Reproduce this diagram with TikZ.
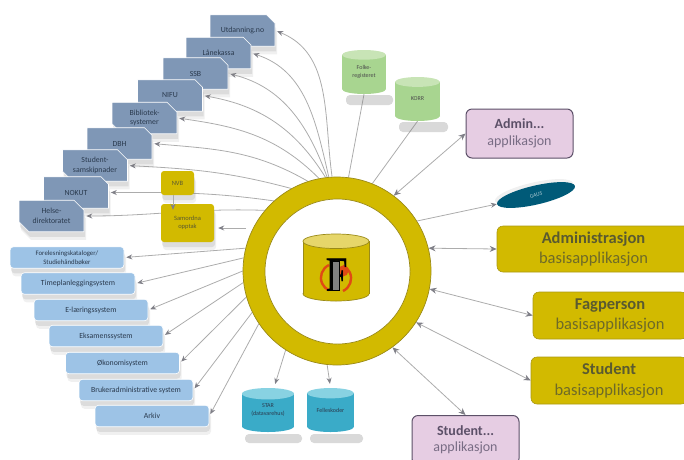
\documentclass[tikz,border=0pt]{standalone}
\usepackage{fontspec}
\setmainfont{Carlito}
\newfontfamily\logofont{Liberation Serif}
\usetikzlibrary{arrows.meta,backgrounds,shadows,shapes.geometric,shapes.misc}

\definecolor{ringyellow}{HTML}{D2BA00}
\definecolor{ringedge}{HTML}{9A8A18}
\definecolor{coretop}{HTML}{E6D66A}
\definecolor{slateblue}{HTML}{7F97B6}
\definecolor{paleblue}{HTML}{9DC3E6}
\definecolor{inktext}{HTML}{2A3A4E}
\definecolor{linkgray}{HTML}{ACACAC}
\definecolor{tipgray}{HTML}{808088}
\definecolor{olivetext}{HTML}{6E6A28}
\definecolor{olivebold}{HTML}{5A5A30}
\definecolor{plumtext}{HTML}{786C84}
\definecolor{plumbold}{HTML}{5C5068}
\definecolor{plumfill}{HTML}{E6CDE3}
\definecolor{greenbody}{HTML}{A8D590}
\definecolor{greentop}{HTML}{C8E4B6}
\definecolor{tealbody}{HTML}{3AABC8}
\definecolor{tealtop}{HTML}{88D2E2}
\definecolor{gausblue}{HTML}{005A78}
\definecolor{logored}{HTML}{E04A14}

\tikzset{
	softshadow/.style={general shadow={shadow xshift=2pt,shadow yshift=-8pt,fill=gray,opacity=.12},
		general shadow={shadow xshift=1pt,shadow yshift=-5pt,fill=gray,opacity=.18}},
	extbox/.style={chamfered rectangle,chamfered rectangle corners={north east,south west},
		chamfered rectangle xsep=5pt,chamfered rectangle ysep=5pt,minimum width=65pt,minimum height=31.5pt,
		inner sep=0pt,fill=slateblue,draw=white,line width=.6pt,align=center,text=inktext,
		font=\fontsize{7.8}{9.6}\selectfont,softshadow},
	sysbox/.style={rectangle,rounded corners=3.5pt,minimum width=114pt,minimum height=21.5pt,inner sep=0pt,
		fill=paleblue,draw=white,line width=.6pt,align=center,text=inktext,
		font=\fontsize{7.8}{9.6}\selectfont,softshadow},
	feedbox/.style={rectangle,rounded corners=3pt,inner sep=0pt,fill=ringyellow,align=center,text=olivebold,
		font=\fontsize{6.5}{8.5}\selectfont,softshadow},
	appbox/.style={rectangle,rounded corners=6pt,minimum width=107pt,minimum height=49pt,inner sep=0pt,
		fill=plumfill,draw=plumbold,line width=1pt,align=center,text=plumtext,
		font=\fontsize{14}{16.5}\selectfont},
	basisbox/.style={rectangle,rounded corners=6pt,minimum height=47pt,inner sep=0pt,fill=ringyellow,
		draw=ringedge!70!ringyellow,line width=.6pt,align=center,text=olivetext,
		font=\fontsize{16.5}{20.5}\selectfont},
	canline/.style={draw=none},
	canlabel/.style={inner sep=0pt,align=center,font=\fontsize{6}{7.5}\selectfont},
	dbshade/.style={fill=gray,opacity=.3,rounded corners=4pt},
	link/.style={draw=linkgray,line width=.8pt,-{Stealth[length=6pt,width=5pt,color=tipgray]},shorten >=2pt},
	duplex/.style={draw=linkgray,line width=.8pt,{Stealth[length=7pt,width=6pt,color=tipgray]}-{Stealth[length=7pt,width=6pt,color=tipgray]}},
	plain/.style={draw=linkgray,line width=.8pt}
}

% name, x, y, width, height, body colour, top colour, label colour, label
\newcommand{\dbcan}[9]{
	\path[fill=#6,canline] (#2,#3+#5/2-.11*#4) ellipse[x radius=#4/2,y radius=.11*#4];
	\fill[#6] (#2-#4/2,#3-#5/2+.11*#4) rectangle (#2+#4/2,#3+#5/2-.11*#4);
	\path[canline] (#2-#4/2,#3-#5/2+.11*#4) -- (#2-#4/2,#3+#5/2-.11*#4);
	\path[canline] (#2+#4/2,#3-#5/2+.11*#4) -- (#2+#4/2,#3+#5/2-.11*#4);
	\path[fill=#7,canline] (#2,#3-#5/2+.11*#4) ellipse[x radius=#4/2,y radius=.11*#4];
	\node[canlabel,text=#8,minimum width=#4,minimum height=#5] (#1) at (#2,#3) {#9};
}

\begin{document}
\begin{tikzpicture}[x=1pt,y=-1pt]
\useasboundingbox (0,0) rectangle (684,459);

% outside sources, lowest one on top
\node[extbox] (utd) at (242.5,30.5) {Utdanning.no};
\node[extbox] (lan) at (218.5,53) {Lånekassa};
\node[extbox] (ssb) at (195.5,73.5) {SSB};
\node[extbox] (nifu) at (170,95.5) {NIFU};
\node[extbox] (bib) at (144.5,118) {Bibliotek-\\systemer};
\node[extbox] (dbh) at (119.5,143.5) {DBH};
\node[extbox] (stu) at (95,165.5) {Student-\\samskipnader};
\node[extbox] (nok) at (76,192.5) {NOKUT};
\node[extbox] (hel) at (51.5,216) {Helse-\\direktoratet};

% internal systems
\node[sysbox,font=\fontsize{6.8}{9.2}\selectfont] (fore) at (67,257.5) {Forelesningskataloger/\\Studiehåndbøker};
\node[sysbox] (time) at (78,283.5) {Timeplanleggingsystem};
\node[sysbox] (elar) at (91,310) {E-læringssystem};
\node[sysbox] (eks) at (106,336) {Eksamenssystem};
\node[sysbox] (oko) at (122.5,363) {Økonomisystem};
\node[sysbox] (bruk) at (136,390) {Brukeradministrative system};
\node[sysbox] (ark) at (152,416) {Arkiv};

\node[feedbox,minimum width=33pt,minimum height=24pt] (nvb) at (177.5,183) {NVB};
\node[feedbox,minimum width=53pt,minimum height=38pt] (sam) at (187.5,223) {Samordna\\opptak};

% databases
\fill[dbshade] (346,95) rectangle (393,105);
\fill[dbshade] (399,122) rectangle (448,132);
\fill[dbshade] (245,434) rectangle (302,443);
\fill[dbshade] (310,434) rectangle (363,443);
\dbcan{folke}{364}{72}{44}{44}{greenbody}{greentop}{black!70}{Folke-\\registeret}
\dbcan{korr}{417.5}{99}{45}{44}{greenbody}{greentop}{black!70}{KORR}
\dbcan{star}{268}{410}{52}{44}{tealbody}{tealtop}{inktext}{STAR\\(datavarehus)}
\dbcan{felles}{330.5}{410}{47}{44}{tealbody}{tealtop}{inktext}{Felleskoder}

% the ring with the core database
\node[circle,minimum size=188pt,inner sep=0pt,fill=ringyellow,draw=ringedge,line width=.7pt] (ring) at (337,271) {};
\node[circle,minimum size=145pt,inner sep=0pt,fill=white,draw=ringedge,line width=.7pt] (hole) at (337.5,271.5) {};
\begin{scope}[canline/.style={draw=ringedge,line width=.7pt}]
\dbcan{core}{336}{267.5}{66}{67}{ringyellow}{coretop}{black}{}
\end{scope}
\fill[logored] (343,271) circle[radius=5.5pt];
\draw[logored,line width=2.4pt] (329,265) arc[start angle=115,end angle=245,radius=14pt];
\draw[logored,line width=2.4pt] (343,291) arc[start angle=-65,end angle=65,radius=14pt];
\node[inner sep=0pt,font=\logofont\bfseries\fontsize{50}{50}\selectfont,xscale=.72] (logo) at (337.5,275) {F};
\fill[gray,draw=black,line width=.3pt] (332,261) rectangle (339,290);

% applications
\node[appbox] (adm) at (519.5,133.5) {\textcolor{plumbold}{\textbf{Admin...}}\\applikasjon};
\node[appbox] (sapp) at (465.5,440) {\textcolor{plumbold}{\textbf{Student...}}\\applikasjon};
\node[ellipse,minimum width=80pt,minimum height=19pt,inner sep=0pt,fill=gausblue,rotate=13,
	text=white!70!gausblue,font=\fontsize{5.5}{6}\selectfont,
	general shadow={shadow yshift=3pt,shadow xshift=-2pt,fill=gray,opacity=.12}] (gaus) at (536,195) {GAUS};
\node[basisbox,minimum width=193pt,minimum height=46pt] (badm) at (593.5,249) {\textcolor{olivebold}{\textbf{Administrasjon}}\\basisapplikasjon};
\node[basisbox,minimum width=154pt] (bfag) at (610,315.5) {\textcolor{olivebold}{\textbf{Fagperson}}\\basisapplikasjon};
\node[basisbox,minimum width=156pt] (bstu) at (609,380.5) {\textcolor{olivebold}{\textbf{Student}}\\basisapplikasjon};

\coordinate (samin) at (246,228);

\begin{scope}[on background layer]
\draw[link] (ring.93) to[out=98,in=-22] (utd.east);
\draw[link] (ring.95) to[out=103,in=-18] (lan.east);
\draw[link] (ring.96) to[out=110,in=-14] (ssb.east);
\draw[link] (ring.97) to[out=122,in=-10] (nifu.east);
\draw[link] (ring.101) to[out=135,in=-8] (bib.east);
\draw[link] (ring.108) to[out=150,in=-5] (dbh.east);
\draw[link] (ring.119) to[out=165,in=-3] (stu.east);
\draw[link] (ring.132) to[out=172,in=0] (nok.east);
\draw[link] (ring.140) to[out=178,in=0] (hel.east);
\draw[link] (ring.166) -- (fore.east);
\draw[link] (ring.172) -- (time.east);
\draw[link] (ring.180) -- (elar.east);
\draw[link] (ring.187) -- (eks.east);
\draw[link] (ring.196) -- (oko.east);
\draw[link] (ring.206) -- (bruk.east);
\draw[link] (ring.214) -- (ark.east);
\draw[link,shorten >=4pt] (ring.237) -- (star.75);
\draw[link,shorten >=4pt] (ring.264) -- (felles.north);
\draw[plain] (ring.83) -- (folke.south);
\draw[plain] (ring.68) -- (korr.south);
\end{scope}

\draw[link,shorten >=4pt] (samin) -- (sam.east |- samin);
\draw[link,shorten >=0pt] ([xshift=-4.5pt]nvb.south) -- ([xshift=-14.5pt,yshift=-6pt]sam.north);
\draw[link,shorten >=0pt] (ring.32) -- (gaus.west);
\draw[duplex] (ring.53.6) -- (adm.west);
\draw[duplex] (ring.14) -- (badm.west);
\draw[duplex] (ring.-11) -- (bfag.west);
\draw[duplex] (ring.-33) -- (bstu.west);
\draw[duplex] (ring.-54) -- (sapp.north);
\end{tikzpicture}
\end{document}
